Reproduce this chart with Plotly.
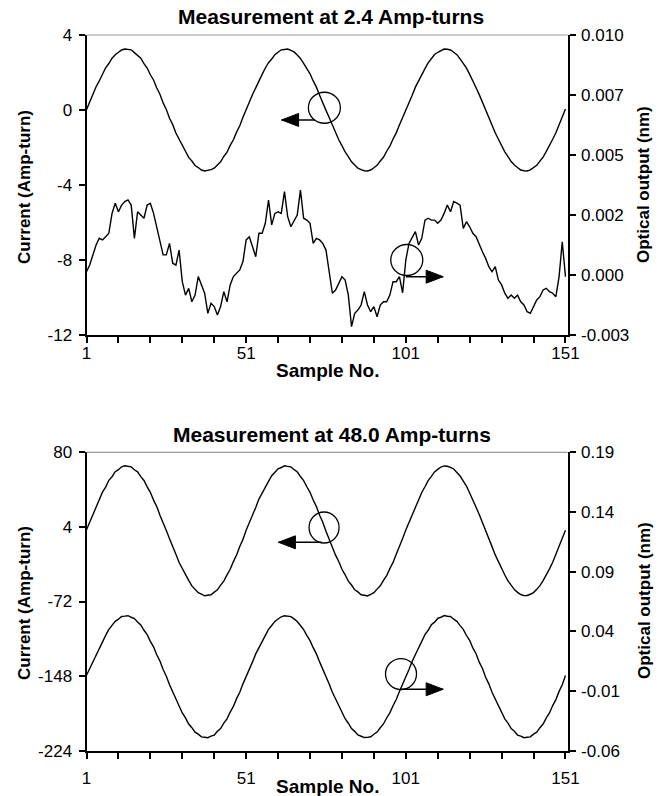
import plotly.graph_objects as go

W, H = 660, 796

# ---------------- data ----------------
sample_no = list(range(1, 152))
x_tickvals = list(range(1, 152, 10))
x_ticktext = ["1", "", "", "", "", "51", "", "", "", "", "101", "", "", "", "", "151"]

# Panel 1: 2.4 Amp-turns
current_24 = [
    0.02, 0.45, 0.80, 1.24, 1.55, 1.93, 2.25, 2.48, 2.76, 2.95, 3.06, 3.20, 3.25, 3.23, 3.21, 3.06, 2.92, 2.76, 2.47, 2.24,
    1.88, 1.60, 1.17, 0.84, 0.38, 0.03, -0.44, -0.78, -1.23, -1.55, -1.94, -2.20, -2.53, -2.72, -2.96, -3.07, -3.20, -3.25, -3.23, -3.18,
    -3.10, -2.92, -2.76, -2.48, -2.25, -1.89, -1.59, -1.18, -0.84, -0.39,
    0.03, 0.43, 0.83, 1.18, 1.59, 1.90, 2.24, 2.52, 2.72, 2.95, 3.08, 3.21, 3.23, 3.25, 3.18, 3.10, 2.93, 2.75, 2.49, 2.21,
    1.93, 1.55, 1.22, 0.79, 0.43, -0.02, -0.40, -0.83, -1.18, -1.59, -1.90, -2.24, -2.49, -2.76, -2.93, -3.10, -3.18, -3.24, -3.25, -3.20,
    -3.08, -2.95, -2.72, -2.52, -2.20, -1.93, -1.55, -1.22, -0.80, -0.42,
    0.01, 0.42, 0.79, 1.22, 1.56, 1.92, 2.21, 2.51, 2.73, 2.96, 3.08, 3.18, 3.25, 3.24, 3.20, 3.08, 2.95, 2.73, 2.51, 2.23,
    1.90, 1.58, 1.19, 0.82, 0.40, 0.02, -0.42, -0.80, -1.21, -1.56, -1.92, -2.23, -2.49, -2.75, -2.93, -3.09, -3.20, -3.24, -3.25, -3.19,
    -3.08, -2.95, -2.73, -2.51, -2.21, -1.92, -1.56, -1.21, -0.80, -0.41,
    0.05,
]
optical_24 = [
    -0.00026, 0.00003, 0.00047, 0.00090, 0.00119, 0.00112, 0.00126, 0.00141, 0.00227, 0.00271,
    0.00234, 0.00263, 0.00278, 0.00285, 0.00263, 0.00119, 0.00234, 0.00220, 0.00206, 0.00263,
    0.00271, 0.00227, 0.00169, 0.00119, 0.00047, 0.00047, 0.00097, 0.00011, 0.00003, 0.00068,
    -0.00069, -0.00127, -0.00098, -0.00156, -0.00127, -0.00047, -0.00083, -0.00119, -0.00206, -0.00163,
    -0.00177, -0.00213, -0.00177, -0.00112, -0.00156, -0.00083, -0.00047, -0.00033, -0.00018, 0.00018,
    0.00112, 0.00126, 0.00083, 0.00039, 0.00141, 0.00141, 0.00184, 0.00285, 0.00177, 0.00227,
    0.00234, 0.00227, 0.00321, 0.00213, 0.00169, 0.00198, 0.00220, 0.00328, 0.00206, 0.00198,
    0.00184, 0.00097, 0.00119, 0.00112, 0.00097, 0.00068, -0.00026, -0.00119, -0.00105, -0.00076,
    -0.00047, -0.00062, -0.00127, -0.00264, -0.00206, -0.00192, -0.00170, -0.00112, -0.00170, -0.00199,
    -0.00177, -0.00221, -0.00170, -0.00156, -0.00156, -0.00127, -0.00069, -0.00069, -0.00047, -0.00117,
    0.00025, 0.00097, 0.00126, 0.00148, 0.00090, 0.00119, 0.00198, 0.00206, 0.00198, 0.00198,
    0.00184, 0.00198, 0.00227, 0.00263, 0.00234, 0.00278, 0.00271, 0.00263, 0.00162, 0.00191,
    0.00169, 0.00141, 0.00126, 0.00090, 0.00061, 0.00032, -0.00004, -0.00026, -0.00004, -0.00062,
    -0.00083, -0.00119, -0.00141, -0.00127, -0.00141, -0.00127, -0.00156, -0.00170, -0.00199, -0.00206,
    -0.00177, -0.00148, -0.00134, -0.00105, -0.00098, -0.00112, -0.00119, -0.00134, -0.00047, 0.00104,
    -0.00047,
]

# Panel 2: 48.0 Amp-turns
current_48 = [
    1.0, 8.9, 15.8, 24.9, 31.2, 39.4, 44.6, 51.5, 55.1, 60.2, 62.3, 65.2, 66.3, 65.6, 65.1, 62.2, 60.1, 55.2, 51.3, 44.8,
    39.2, 31.3, 24.8, 15.9, 8.7, 0.4, -8.0, -16.9, -23.8, -32.3, -38.4, -45.7, -50.5, -56.1, -59.3, -63.1, -64.5, -66.2, -65.6, -65.1,
    -62.5, -60.1, -55.3, -51.2, -44.9, -39.2, -31.4, -24.7, -15.9, -8.7,
    0.6, 8.0, 16.9, 23.8, 32.3, 38.4, 45.7, 50.4, 56.1, 59.3, 63.1, 64.5, 66.2, 65.6, 65.1, 62.5, 60.1, 55.3, 51.2, 44.9,
    39.2, 31.4, 24.7, 15.9, 8.7, -0.4, -8.8, -15.9, -24.8, -31.3, -39.2, -44.8, -51.3, -55.2, -60.1, -62.2, -65.1, -65.6, -66.3, -64.8,
    -63.0, -59.4, -56.0, -50.6, -45.6, -38.5, -32.2, -23.9, -16.8, -7.9,
    0.9, 8.6, 16.0, 24.6, 31.5, 39.1, 44.9, 51.1, 55.4, 60.0, 62.6, 65.0, 66.1, 65.8, 64.7, 63.0, 59.5, 55.9, 50.6, 45.5,
    38.6, 32.1, 24.0, 16.7, 8.0, 0.5, -8.6, -16.1, -24.5, -31.6, -39.0, -45.0, -51.0, -55.5, -59.9, -62.7, -64.9, -66.0, -65.9, -64.6,
    -62.9, -59.6, -55.8, -50.7, -45.4, -38.7, -32.0, -24.1, -16.6, -8.1,
    0.7,
]
optical_48 = [
    0.0032, 0.0088, 0.0143, 0.0212, 0.0262, 0.0324, 0.0366, 0.0417, 0.0448, 0.0484,
    0.0502, 0.0524, 0.0527, 0.0531, 0.0518, 0.0507, 0.0478, 0.0454, 0.0409, 0.0372,
    0.0316, 0.0270, 0.0204, 0.0151, 0.0080, 0.0024, -0.0047, -0.0103, -0.0172, -0.0222,
    -0.0284, -0.0325, -0.0377, -0.0407, -0.0445, -0.0461, -0.0484, -0.0487, -0.0491, -0.0478,
    -0.0469, -0.0437, -0.0415, -0.0369, -0.0333, -0.0276, -0.0229, -0.0164, -0.0110, -0.0040,
    0.0017, 0.0087, 0.0144, 0.0211, 0.0263, 0.0323, 0.0367, 0.0416, 0.0449, 0.0483,
    0.0503, 0.0522, 0.0530, 0.0528, 0.0523, 0.0504, 0.0482, 0.0449, 0.0414, 0.0366,
    0.0322, 0.0263, 0.0211, 0.0144, 0.0087, 0.0016, -0.0041, -0.0110, -0.0165, -0.0229,
    -0.0277, -0.0332, -0.0370, -0.0414, -0.0438, -0.0468, -0.0479, -0.0490, -0.0488, -0.0483,
    -0.0462, -0.0444, -0.0408, -0.0376, -0.0326, -0.0283, -0.0223, -0.0171, -0.0104, -0.0047,
    0.0024, 0.0080, 0.0150, 0.0205, 0.0270, 0.0316, 0.0372, 0.0409, 0.0455, 0.0477,
    0.0508, 0.0518, 0.0532, 0.0526, 0.0524, 0.0502, 0.0484, 0.0448, 0.0417, 0.0365,
    0.0324, 0.0261, 0.0212, 0.0142, 0.0089, 0.0015, -0.0040, -0.0111, -0.0164, -0.0230,
    -0.0276, -0.0333, -0.0369, -0.0415, -0.0437, -0.0469, -0.0478, -0.0491, -0.0487, -0.0484,
    -0.0461, -0.0445, -0.0407, -0.0377, -0.0325, -0.0284, -0.0222, -0.0172, -0.0103, -0.0048,
    0.0030,
]

# axis ticks
left1_ticks = [-12, -8, -4, 0, 4]
right1_ticks = [-0.003, -0.0004, 0.0022, 0.0048, 0.0074, 0.010]
right1_text = ["-0.003", "0.000", "0.002", "0.005", "0.007", "0.010"]
left2_ticks = [-224, -148, -72, 4, 80]
right2_ticks = [-0.06, -0.01, 0.04, 0.09, 0.14, 0.19]
right2_text = ["-0.06", "-0.01", "0.04", "0.09", "0.14", "0.19"]

titles = ["Measurement at 2.4 Amp-turns", "Measurement at 48.0 Amp-turns"]
x_title = "Sample No."
left_title = "Current (Amp-turn)"
right_title = "Optical output (nm)"

# ---------------- figure ----------------
FONT = "Arial, Liberation Sans, sans-serif"
line_style = dict(color="black", width=1.4)

fig = go.Figure()
fig.add_trace(go.Scatter(x=sample_no, y=current_24, mode="lines", line=line_style, xaxis="x", yaxis="y"))
fig.add_trace(go.Scatter(x=sample_no, y=optical_24, mode="lines", line=line_style, xaxis="x", yaxis="y2"))
fig.add_trace(go.Scatter(x=sample_no, y=current_48, mode="lines", line=line_style, xaxis="x2", yaxis="y3"))
fig.add_trace(go.Scatter(x=sample_no, y=optical_48, mode="lines", line=line_style, xaxis="x2", yaxis="y4"))

xdom = [86.5 / W, 567.7 / W]
ydom1 = [1 - 335 / H, 1 - 35 / H]
ydom2 = [1 - 750.7 / H, 1 - 452.3 / H]

tickfont = dict(family=FONT, size=17, color="black")
common = dict(showline=True, linecolor="black", linewidth=2, ticks="outside", ticklen=6,
              tickwidth=1.5, tickcolor="black", showgrid=False, zeroline=False, tickfont=tickfont,
              automargin=False)

xr = [1, 151.7]
fig.update_layout(
    width=W, height=H, autosize=False,
    margin=dict(l=0, r=0, t=0, b=0),
    paper_bgcolor="white", plot_bgcolor="white",
    showlegend=False,
    xaxis=dict(domain=xdom, anchor="y", range=xr, tickvals=x_tickvals, ticktext=x_ticktext,
               ticklabelstandoff=-4, **common),
    yaxis=dict(domain=ydom1, anchor="x", range=[-12, 4], tickvals=left1_ticks,
               ticktext=[str(v) for v in left1_ticks], ticklabelstandoff=3, **common),
    yaxis2=dict(overlaying="y", side="right", anchor="x", range=[-0.003, 0.010],
                tickvals=right1_ticks, ticktext=right1_text, ticklabelstandoff=2, **common),
    xaxis2=dict(domain=xdom, anchor="y3", range=xr, tickvals=x_tickvals, ticktext=x_ticktext,
                ticklabelstandoff=5, **common),
    yaxis3=dict(domain=ydom2, anchor="x2", range=[-224, 80], tickvals=left2_ticks,
                ticktext=[str(v) for v in left2_ticks], ticklabelstandoff=3, **common),
    yaxis4=dict(overlaying="y3", side="right", anchor="x2", range=[-0.06, 0.19],
                tickvals=right2_ticks, ticktext=right2_text, ticklabelstandoff=2, **common),
)

# gray top borders
for yd in (ydom1, ydom2):
    fig.add_shape(type="line", xref="paper", yref="paper", x0=xdom[0], x1=xdom[1], y0=yd[1], y1=yd[1],
                  line=dict(color="#999999", width=1.2))

# text annotations
def ann(text, px, py, size, bold=True, angle=0):
    fig.add_annotation(text=f"<b>{text}</b>" if bold else text, xref="paper", yref="paper",
                       x=px / W, y=1 - py / H, showarrow=False, textangle=angle,
                       xanchor="center", yanchor="middle",
                       font=dict(family=FONT, size=size, color="black"))

ann(titles[0], 331, 17, 21)
ann(titles[1], 332, 435, 21)
ann(x_title, 327, 371, 19)
ann(x_title, 327, 786, 19)
ann(left_title, 24, 187, 17, angle=-90)
ann(left_title, 24, 603, 17, angle=-90)
ann(right_title, 644, 185, 17, angle=-90)
ann(right_title, 644, 601, 17, angle=-90)

# circle + arrow markers pointing to each curve's axis
def circle(xref, yref, cx, cy, rx=16, ry=15.5):
    fig.add_shape(type="circle", xref=xref, yref=yref, xsizemode="pixel", ysizemode="pixel",
                  xanchor=cx, yanchor=cy, x0=-rx, x1=rx, y0=-ry, y1=ry,
                  line=dict(color="black", width=1.3))

def arrow(xref, yref, tipx, tipy, length, direction):
    d = 1 if direction == "left" else -1
    fig.add_shape(type="line", xref=xref, yref=yref, xsizemode="pixel", ysizemode="pixel",
                  xanchor=tipx, yanchor=tipy, x0=0, x1=d * length, y0=0, y1=0,
                  line=dict(color="black", width=1.5))
    fig.add_shape(type="path", xref=xref, yref=yref, xsizemode="pixel", ysizemode="pixel",
                  xanchor=tipx, yanchor=tipy,
                  path=f"M0,0 L{d * 17},6.5 L{d * 17},-6.5 Z",
                  fillcolor="black", line=dict(color="black", width=1))

circle("x", "y", 75.5, 0.12)
arrow("x", "y", 62.1, -0.53, 33.5, "left")
circle("x", "y", 101.3, -8.0)
arrow("x", "y", 112.7, -8.89, 37.3, "right")
circle("x2", "y3", 75.4, 3.4, 15, 15.5)
arrow("x2", "y3", 61.1, -11.7, 43, "left")
circle("x2", "y3", 99.5, -145.9, 15.5, 15.5)
arrow("x2", "y3", 112.7, -161.4, 42.3, "right")

fig.write_html("out.html",
               config={"displayModeBar": False},
               post_script="document.body.style.margin='0';document.body.style.overflow='hidden';")
